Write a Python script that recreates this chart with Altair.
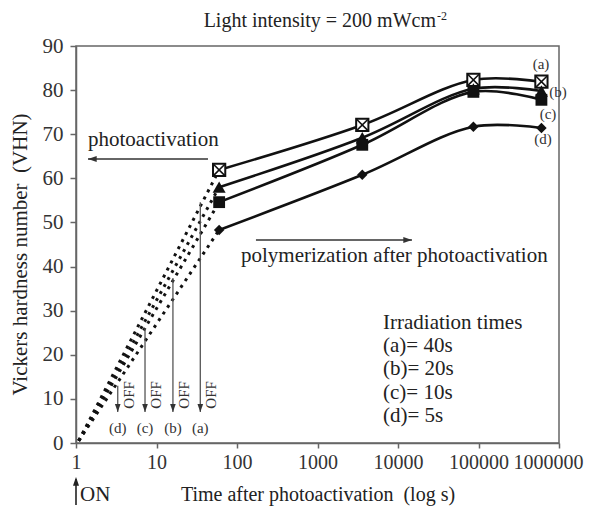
import altair as alt
import pandas as pd

# ---------------- data ----------------
times = [60, 3600, 86400, 604800]            # s after start
hv_a = [61.9, 72.1, 82.3, 81.9]               # (a) 40 s
hv_b = [58.0, 69.2, 80.3, 79.8]               # (b) 20 s
hv_c = [54.6, 67.6, 79.6, 77.8]               # (c) 10 s
hv_d = [48.3, 60.8, 71.7, 71.4]               # (d) 5 s
series_names = ["a", "b", "c", "d"]

origin_t = 1.08
origin_v = 0.5

off_t = [35, 16, 7.2, 3.3]                    # light switched off
off_top = [54.6, 37.4, 26.0, 13.0]
off_bottom = 7.0
off_labels = ["(a)", "(b)", "(c)", "(d)"]

end_label_t = [597000, 972000, 730000, 633000]
end_label_v = [85.9, 79.6, 74.6, 68.9]

legend_lines = ["Irradiation times", "(a)= 40s", "(b)= 20s", "(c)= 10s", "(d)= 5s"]
legend_v = [27.2, 22.0, 16.8, 11.3, 6.1]

x_ticks = [1, 10, 100, 1000, 10000, 100000, 1000000]
y_ticks = [0, 10, 20, 30, 40, 50, 60, 70, 80, 90]

FONT = "Liberation Serif"
INK = "#111111"
GREY = "#666666"

# ---------------- tables ----------------
all_hv = {"a": hv_a, "b": hv_b, "c": hv_c, "d": hv_d}
rows = []
for s in series_names:
    for t, v in zip(times, all_hv[s]):
        rows.append({"s": s, "t": t, "v": v})
lines_df = pd.DataFrame(rows)

dot_rows = []
for s in series_names:
    dot_rows.append({"s": s, "t": origin_t, "v": origin_v})
    dot_rows.append({"s": s, "t": times[0], "v": all_hv[s][0]})
dots_df = pd.DataFrame(dot_rows)

off_df = pd.DataFrame({"t": off_t, "top": off_top, "bottom": [off_bottom] * 4,
                       "lab": off_labels, "labv": [3.4] * 4, "offv": [10.9] * 4,
                       "off": ["OFF"] * 4})

end_df = pd.DataFrame({"t": end_label_t, "v": end_label_v, "lab": off_labels})
legend_df = pd.DataFrame({"t": [6510] * 5, "v": legend_v, "txt": legend_lines})

harrow_df = pd.DataFrame({"t": [43.6, 172], "t2": [1.41, 14900], "v": [64.4, 46.0],
                          "dir": ["left", "right"]})
htext_df = pd.DataFrame({"t": [1.41, 112], "v": [68.7, 42.4],
                         "txt": ["photoactivation", "polymerization after photoactivation"]})

# ---------------- scales / axes ----------------
xs = alt.Scale(type="log", domain=[1, 1000000], nice=False)
ys = alt.Scale(domain=[0, 90], nice=False, zero=False)
xax = alt.Axis(values=x_ticks, format="d", grid=False, tickSize=5, tickColor=GREY,
               domainColor=GREY, domainWidth=1.5, tickWidth=1.5,
               labelFont=FONT, labelFontSize=20, labelColor="#333", labelPadding=4,
               labelFlush=False, labelOverlap=False,
               labelAlign=alt.expr("datum.value >= 1000000 ? 'right' : 'center'"),
               labelOffset=alt.expr("datum.value >= 1000000 ? 24 : 0"),
               title="Time after photoactivation\u00a0 (log s)", titleFont=FONT,
               titleFontSize=20, titleFontWeight="normal", titleColor="#222",
               titleBaseline="middle", titleY=51)
yax = alt.Axis(values=y_ticks, grid=False, tickSize=6, tickColor=GREY,
               domainColor=GREY, domainWidth=1.5, tickWidth=1.5,
               labelFont=FONT, labelFontSize=21, labelColor="#333", labelPadding=7,
               labelFlush=False,
               title="Vickers hardness number\u00a0 (VHN)", titleFont=FONT,
               titleFontSize=21, titleFontWeight="normal", titleColor="#222",
               titleX=-56, titleY=208, titleBaseline="middle")


def X(f):
    return alt.X(f, type="quantitative", scale=xs, axis=xax)


def Y(f):
    return alt.Y(f, type="quantitative", scale=ys, axis=yax)


base_lines = alt.Chart(lines_df)

solid = base_lines.mark_line(interpolate="catmull-rom", color=INK, strokeWidth=2.6).encode(
    x=X("t"), y=Y("v"), detail="s:N")

dotted = alt.Chart(dots_df).mark_line(color=INK, strokeWidth=3, strokeDash=[3, 5]).encode(
    x=X("t"), y=Y("v"), detail="s:N")

# markers
m_a_box = base_lines.transform_filter("datum.s == 'a'").mark_point(
    shape="square", filled=True, fill="white", stroke=INK, strokeWidth=2, size=150, opacity=1).encode(
    x=X("t"), y=Y("v"))
m_a_x = base_lines.transform_filter("datum.s == 'a'").mark_point(
    shape="M-1,-1L1,1M1,-1L-1,1", filled=False, stroke=INK, strokeWidth=1.6, size=130, opacity=1).encode(
    x=X("t"), y=Y("v"))
m_b = base_lines.transform_filter("datum.s == 'b'").mark_point(
    shape="triangle-up", filled=True, color=INK, size=170, opacity=1).encode(x=X("t"), y=Y("v"))
m_c = base_lines.transform_filter("datum.s == 'c'").mark_point(
    shape="square", filled=True, color=INK, size=140, opacity=1).encode(x=X("t"), y=Y("v"))
m_d = base_lines.transform_filter("datum.s == 'd'").mark_point(
    shape="diamond", filled=True, color=INK, size=110, opacity=1).encode(x=X("t"), y=Y("v"))

# OFF arrows
off_base = alt.Chart(off_df)
off_rules = off_base.mark_rule(color="#555", strokeWidth=1.3).encode(
    x=X("t"), y=Y("top"), y2="bottom")
off_heads = off_base.mark_point(shape="M0,0L-0.35,-1L0.35,-1Z", filled=True, color="#333",
                                size=260, opacity=1).encode(x=X("t"), y=Y("bottom"))
off_lab = off_base.mark_text(font=FONT, fontSize=15, color="#333", baseline="middle").encode(
    x=X("t"), y=Y("labv"), text="lab")
off_txt = off_base.mark_text(font=FONT, fontSize=15, color="#333", baseline="middle",
                             align="center", angle=270, dy=11).encode(
    x=X("t"), y=Y("offv"), text="off")

# horizontal arrows
h_base = alt.Chart(harrow_df)
h_rules = h_base.mark_rule(color="#333", strokeWidth=1.5).encode(x=X("t"), x2="t2", y=Y("v"))
h_head_l = h_base.transform_filter("datum.dir == 'left'").mark_point(
    shape="M0,0L1,-0.35L1,0.35Z", filled=True, color="#333", size=300, opacity=1).encode(
    x=X("t2"), y=Y("v"))
h_head_r = h_base.transform_filter("datum.dir == 'right'").mark_point(
    shape="M0,0L-1,-0.35L-1,0.35Z", filled=True, color="#333", size=300, opacity=1).encode(
    x=X("t2"), y=Y("v"))
h_text = alt.Chart(htext_df).mark_text(font=FONT, fontSize=21, color="#222", align="left",
                                       baseline="middle").encode(x=X("t"), y=Y("v"), text="txt")

legend_txt = alt.Chart(legend_df).mark_text(font=FONT, fontSize=21, color="#222", align="left",
                                            baseline="middle").encode(x=X("t"), y=Y("v"), text="txt")
end_txt = alt.Chart(end_df).mark_text(font=FONT, fontSize=15, color="#333", align="center",
                                      baseline="middle").encode(x=X("t"), y=Y("v"), text="lab")

# "ON" marker below the axis at t = 1, and the title
on_df = pd.DataFrame({"t": [1], "txt": ["ON"], "title": ["Light intensity = 200 mWcm"], "sup": ["-2"]})
on_base = alt.Chart(on_df)
on_rule = on_base.mark_rule(color="#222", strokeWidth=1.6).encode(
    x=X("t"), y=alt.value(433), y2=alt.value(459))
on_head = on_base.mark_point(shape="M0,0L-0.35,1L0.35,1Z", filled=True, color="#222",
                             size=300, opacity=1).encode(x=X("t"), y=alt.value(431))
on_txt = on_base.mark_text(font=FONT, fontSize=21, color="#222", align="left",
                           baseline="middle", dx=4).encode(x=X("t"), y=alt.value(449), text="txt")

title_main = on_base.mark_text(font=FONT, fontSize=20, color="#222", align="right",
                               baseline="middle").encode(x=alt.value(360), y=alt.value(-25), text="title")
title_sup = on_base.mark_text(font=FONT, fontSize=12, color="#222", align="left",
                              baseline="middle").encode(x=alt.value(361), y=alt.value(-30), text="sup")

chart = alt.layer(
    dotted, solid, off_rules, off_heads, off_lab, off_txt,
    h_rules, h_head_l, h_head_r, h_text, legend_txt, end_txt,
    m_a_box, m_a_x, m_b, m_c, m_d,
    on_rule, on_head, on_txt, title_main, title_sup
).properties(
    width=483, height=397,
    autosize=alt.AutoSizeParams(type="none"),
    padding={"left": 68, "top": 38, "right": 25, "bottom": 63},
    background="white"
).configure_view(stroke=GREY, strokeWidth=1.5)

chart.save("out.html", embed_options={"renderer": "svg", "actions": False})
